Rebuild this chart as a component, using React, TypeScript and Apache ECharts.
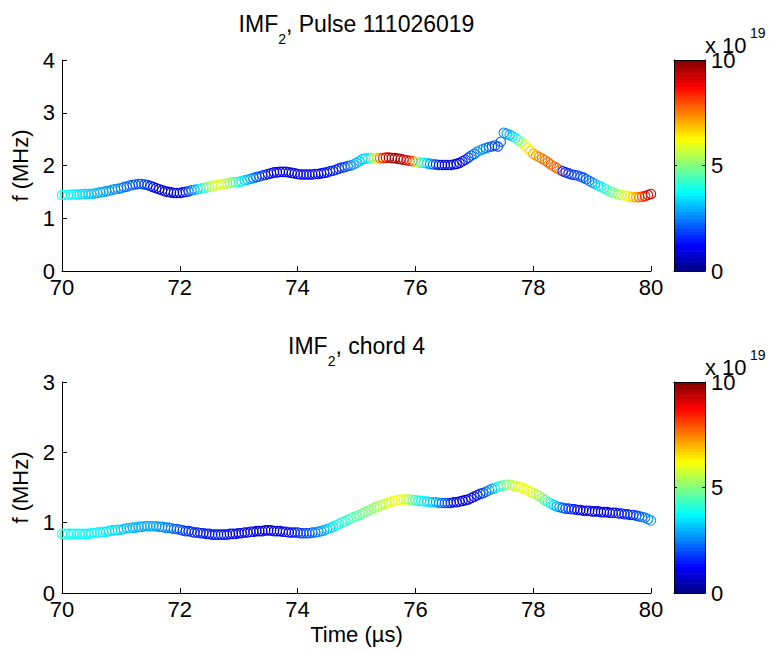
import React, { useEffect, useRef } from "react";
import * as echarts from "echarts";

// ---------- DATA ----------
const T_START = 70; // µs, first sample
const T_STEP = 0.05; // µs between samples

// Upper panel: IMF2 frequency (MHz) for pulse 111026019
const TOP_FREQ = [
  1.44, 1.44, 1.44, 1.45, 1.45, 1.45, 1.45, 1.46, 1.46, 1.46,
  1.46, 1.47, 1.48, 1.49, 1.5, 1.51, 1.52, 1.54, 1.55, 1.56,
  1.57, 1.59, 1.6, 1.62, 1.63, 1.64, 1.65, 1.65, 1.64, 1.63,
  1.61, 1.59, 1.57, 1.55, 1.53, 1.51, 1.5, 1.49, 1.48, 1.48,
  1.48, 1.49, 1.5, 1.51, 1.53, 1.54, 1.55, 1.56, 1.57, 1.58,
  1.6, 1.61, 1.62, 1.63, 1.64, 1.65, 1.66, 1.67, 1.68, 1.68,
  1.69, 1.7, 1.72, 1.73, 1.75, 1.76, 1.78, 1.79, 1.81, 1.82,
  1.84, 1.85, 1.87, 1.87, 1.88, 1.88, 1.88, 1.87, 1.86, 1.85,
  1.84, 1.83, 1.83, 1.83, 1.83, 1.83, 1.84, 1.84, 1.85, 1.86,
  1.87, 1.89, 1.9, 1.92, 1.94, 1.96, 1.97, 1.99, 2.0, 2.02,
  2.05, 2.08, 2.12, 2.13, 2.14, 2.14, 2.14, 2.14, 2.14, 2.14,
  2.15, 2.15, 2.14, 2.14, 2.13, 2.12, 2.11, 2.1, 2.09, 2.08,
  2.07, 2.06, 2.05, 2.05, 2.04, 2.03, 2.02, 2.02, 2.01, 2.01,
  2.01, 2.01, 2.01, 2.02, 2.03, 2.05, 2.08, 2.11, 2.15, 2.19,
  2.22, 2.26, 2.29, 2.31, 2.33, 2.35, 2.36, 2.38, 2.36, 2.45,
  2.62, 2.6, 2.58, 2.55, 2.52, 2.48, 2.44, 2.39, 2.33, 2.28,
  2.22, 2.19, 2.16, 2.13, 2.1, 2.06, 2.02, 1.98, 1.95, 1.92,
  1.89, 1.87, 1.85, 1.83, 1.82, 1.81, 1.79, 1.77, 1.74, 1.71,
  1.68, 1.65, 1.62, 1.6, 1.57, 1.54, 1.51, 1.49, 1.47, 1.45,
  1.44, 1.43, 1.42, 1.41, 1.4, 1.4, 1.4, 1.41, 1.42, 1.44,
  1.46,
];

// Upper panel: colour value (x 10^19)
const TOP_DENSITY = [
  3.9, 3.9, 3.8, 3.8, 3.7, 3.6, 3.5, 3.4, 3.3, 3.2,
  3.1, 3.0, 3.0, 2.9, 2.9, 2.8, 2.8, 2.7, 2.7, 2.6,
  2.5, 2.4, 2.3, 2.2, 2.2, 2.1, 2.1, 2.0, 1.9, 1.8,
  1.6, 1.4, 1.2, 1.0, 0.9, 0.8, 0.8, 0.8, 0.9, 0.9,
  1.0, 1.2, 1.5, 1.8, 2.3, 2.8, 3.2, 3.6, 4.0, 4.6,
  5.2, 5.6, 5.9, 6.0, 5.9, 5.8, 5.6, 5.3, 5.0, 4.5,
  4.0, 3.7, 3.4, 3.1, 2.8, 2.5, 2.2, 2.0, 1.8, 1.6,
  1.5, 1.3, 1.2, 1.1, 1.0, 1.0, 1.0, 1.1, 1.2, 1.2,
  1.2, 1.2, 1.2, 1.2, 1.3, 1.3, 1.2, 1.2, 1.2, 1.3,
  1.4, 1.5, 1.6, 1.6, 1.6, 1.7, 1.8, 2.0, 2.3, 2.7,
  3.0, 3.1, 3.2, 3.3, 3.6, 4.3, 5.5, 6.5, 7.5, 8.3,
  9.0, 9.4, 9.6, 9.7, 9.7, 9.6, 9.4, 9.1, 8.8, 8.2,
  6.8, 5.5, 4.3, 3.8, 3.3, 2.8, 2.3, 1.8, 1.4, 1.1,
  1.0, 1.0, 1.0, 1.0, 1.1, 1.2, 1.3, 1.5, 1.7, 2.0,
  2.3, 2.6, 2.8, 2.8, 2.6, 2.3, 2.0, 1.8, 1.8, 2.2,
  2.6, 2.8, 2.9, 3.2, 3.8, 4.5, 5.2, 5.8, 6.2, 6.6,
  7.0, 7.3, 7.5, 7.6, 7.7, 7.7, 7.8, 7.8, 7.9, 7.5,
  1.5, 1.5, 1.6, 1.7, 1.8, 1.9, 2.0, 2.0, 2.1, 2.3,
  2.6, 3.0, 3.3, 3.6, 3.9, 4.2, 4.5, 4.8, 5.0, 5.3,
  5.6, 5.9, 6.1, 6.4, 6.8, 7.2, 7.6, 8.0, 8.5, 9.0,
  9.2,
];

// Lower panel: IMF2 frequency (MHz) for chord 4
const BOTTOM_FREQ = [
  0.84, 0.84, 0.84, 0.84, 0.84, 0.84, 0.84, 0.84, 0.84, 0.84,
  0.85, 0.85, 0.86, 0.86, 0.87, 0.87, 0.88, 0.89, 0.89, 0.9,
  0.9, 0.91, 0.92, 0.92, 0.93, 0.93, 0.94, 0.94, 0.95, 0.95,
  0.95, 0.95, 0.95, 0.94, 0.94, 0.93, 0.93, 0.92, 0.91, 0.91,
  0.9, 0.89, 0.88, 0.88, 0.87, 0.86, 0.86, 0.85, 0.85, 0.84,
  0.84, 0.83, 0.83, 0.83, 0.83, 0.83, 0.83, 0.84, 0.84, 0.84,
  0.85, 0.85, 0.86, 0.86, 0.87, 0.87, 0.88, 0.88, 0.88, 0.89,
  0.89, 0.89, 0.88, 0.88, 0.88, 0.87, 0.87, 0.86, 0.86, 0.86,
  0.86, 0.85, 0.85, 0.85, 0.85, 0.86, 0.86, 0.87, 0.88, 0.89,
  0.91, 0.92, 0.94, 0.96, 0.98, 1.0, 1.02, 1.04, 1.06, 1.08,
  1.09, 1.11, 1.13, 1.15, 1.17, 1.19, 1.21, 1.23, 1.24, 1.26,
  1.27, 1.29, 1.3, 1.31, 1.32, 1.33, 1.33, 1.33, 1.33, 1.32,
  1.32, 1.31, 1.31, 1.3, 1.3, 1.29, 1.29, 1.29, 1.28, 1.28,
  1.28, 1.28, 1.28, 1.29, 1.29, 1.3, 1.31, 1.32, 1.33, 1.35,
  1.37, 1.39, 1.41, 1.42, 1.44, 1.46, 1.48, 1.49, 1.51, 1.52,
  1.53, 1.54, 1.54, 1.53, 1.52, 1.51, 1.5, 1.48, 1.46, 1.44,
  1.42, 1.4, 1.38, 1.35, 1.32, 1.29, 1.27, 1.25, 1.23, 1.22,
  1.21, 1.2, 1.2, 1.19, 1.19, 1.18, 1.18, 1.17, 1.17, 1.17,
  1.16, 1.16, 1.16, 1.15, 1.15, 1.15, 1.14, 1.14, 1.14, 1.13,
  1.13, 1.12, 1.12, 1.11, 1.11, 1.1, 1.09, 1.08, 1.07, 1.05,
  1.03,
];

// Lower panel: colour value (x 10^19)
const BOTTOM_DENSITY = [
  4.1, 4.0, 4.0, 3.9, 3.9, 3.9, 3.8, 3.8, 3.8, 3.7,
  3.7, 3.7, 3.6, 3.6, 3.6, 3.5, 3.5, 3.5, 3.4, 3.4,
  3.3, 3.2, 3.1, 3.1, 3.0, 3.0, 3.0, 2.9, 2.9, 2.9,
  2.9, 2.8, 2.8, 2.8, 2.7, 2.6, 2.5, 2.4, 2.3, 2.2,
  2.0, 1.9, 1.8, 1.7, 1.6, 1.6, 1.5, 1.5, 1.5, 1.5,
  1.5, 1.5, 1.5, 1.5, 1.5, 1.4, 1.4, 1.4, 1.3, 1.3,
  1.2, 1.2, 1.1, 1.1, 1.0, 1.0, 0.9, 0.9, 0.9, 0.9,
  0.9, 0.9, 0.9, 1.0, 1.0, 1.0, 1.1, 1.3, 1.4, 1.5,
  1.6, 1.7, 1.8, 1.9, 2.0, 2.1, 2.3, 2.5, 2.7, 2.9,
  3.1, 3.3, 3.5, 3.7, 3.9, 4.1, 4.2, 4.3, 4.4, 4.5,
  4.6, 4.7, 4.8, 4.9, 5.0, 5.1, 5.2, 5.3, 5.4, 5.6,
  5.7, 5.9, 6.0, 6.1, 6.1, 6.1, 6.0, 5.8, 5.3, 4.8,
  4.4, 4.0, 3.8, 3.6, 3.4, 3.3, 3.2, 3.0, 2.7, 2.4,
  2.1, 1.9, 1.6, 1.3, 1.1, 1.0, 0.9, 0.9, 0.9, 1.0,
  1.1, 1.3, 1.6, 1.9, 2.2, 2.5, 2.8, 3.3, 3.8, 4.2,
  4.6, 5.0, 5.3, 5.6, 5.8, 6.0, 6.1, 6.1, 6.1, 6.0,
  5.9, 5.6, 5.3, 5.0, 4.6, 4.2, 3.8, 3.4, 3.0, 2.6,
  2.3, 2.0, 1.8, 1.6, 1.4, 1.2, 1.1, 1.0, 1.0, 0.9,
  0.9, 0.9, 1.0, 1.0, 1.0, 1.1, 1.2, 1.3, 1.4, 1.4,
  1.5, 1.5, 1.6, 1.6, 1.7, 1.8, 2.0, 2.2, 2.4, 2.6,
  2.7,
];

const X_MIN = 70;
const X_MAX = 80;
const X_INTERVAL = 2;
const TOP_Y_MAX = 4;
const BOTTOM_Y_MAX = 3;
const CBAR_MIN = 0;
const CBAR_MAX = 10;
const CBAR_INTERVAL = 5;
const CBAR_STEPS = 64;

const TOP_TITLE = "{a|IMF}{s|2}{a|, Pulse 111026019}";
const BOTTOM_TITLE = "{a|IMF}{s|2}{a|, chord 4}";
const X_NAME = "Time (µs)";
const Y_NAME = "f (MHz)";

// jet colormap stops
const JET = [
  "#000080", "#0000ff", "#0080ff", "#00ffff", "#80ff80",
  "#ffff00", "#ff8000", "#ff0000", "#800000",
];

// ---------- HELPERS ----------
const FONT = "'Liberation Sans', Arial, Helvetica, sans-serif";

function toPoints(freq: number[], dens: number[]) {
  return freq.map((f, i) => [
    Math.round((T_START + i * T_STEP) * 100) / 100,
    f,
    dens[i],
  ]);
}

function colorbarBands() {
  const step = (CBAR_MAX - CBAR_MIN) / CBAR_STEPS;
  const out: number[][] = [];
  for (let i = 0; i < CBAR_STEPS; i++) {
    const lo = CBAR_MIN + i * step;
    out.push([0, lo, lo + step / 2, lo + step]);
  }
  return out;
}

const ringItem = (_params: any, api: any) => {
  const p = api.coord([api.value(0), api.value(1)]);
  return {
    type: "circle",
    shape: { cx: p[0], cy: p[1], r: 4.7 },
    style: { fill: "none", stroke: api.visual("color"), lineWidth: 1.1 },
  };
};

const bandItem = (_params: any, api: any) => {
  const a = api.coord([0, api.value(1)]);
  const b = api.coord([1, api.value(3)]);
  return {
    type: "rect",
    shape: { x: a[0], y: b[1], width: b[0] - a[0], height: a[1] - b[1] + 0.6 },
    style: { fill: api.visual("color") },
  };
};

const axisLineBlack = { show: true, lineStyle: { color: "#000", width: 1 } };
const tickLabel = { color: "#000", fontSize: 22, fontFamily: FONT };

function mainX(gridIndex: number, withName: boolean) {
  return {
    type: "value",
    gridIndex,
    min: X_MIN,
    max: X_MAX,
    interval: X_INTERVAL,
    axisLine: { ...axisLineBlack, onZero: false },
    axisTick: { show: true, inside: true, length: 5, lineStyle: { color: "#000" } },
    axisLabel: { ...tickLabel, margin: 5 },
    splitLine: { show: false },
    name: withName ? X_NAME : "",
    nameLocation: "middle",
    nameGap: 30,
    nameTextStyle: { color: "#000", fontSize: 22, fontFamily: FONT },
  };
}

function mainY(gridIndex: number, max: number) {
  return {
    type: "value",
    gridIndex,
    min: 0,
    max,
    interval: 1,
    axisLine: { ...axisLineBlack, onZero: false },
    axisTick: { show: true, inside: true, length: 5, lineStyle: { color: "#000" } },
    axisLabel: { ...tickLabel, margin: 7 },
    splitLine: { show: false },
    name: Y_NAME,
    nameLocation: "middle",
    nameGap: 30,
    nameTextStyle: { color: "#000", fontSize: 22, fontFamily: FONT },
  };
}

function cbarX(gridIndex: number, position: string) {
  return {
    type: "value",
    gridIndex,
    min: 0,
    max: 1,
    position,
    z: 5,
    axisLine: { ...axisLineBlack, onZero: false },
    axisTick: { show: false },
    axisLabel: { show: false },
    splitLine: { show: false },
  };
}

function cbarY(gridIndex: number, position: string, labels: boolean) {
  return {
    type: "value",
    gridIndex,
    min: CBAR_MIN,
    max: CBAR_MAX,
    interval: CBAR_INTERVAL,
    position,
    z: 5,
    axisLine: { ...axisLineBlack, onZero: false },
    axisTick: { show: true, inside: true, length: 3, lineStyle: { color: "#000" } },
    axisLabel: labels ? { ...tickLabel, margin: 6 } : { show: false },
    splitLine: { show: false },
  };
}

function titleRich(text: string, top: number) {
  return {
    text,
    left: 356.5,
    top,
    textAlign: "center",
    padding: 0,
    textStyle: {
      fontWeight: "normal",
      rich: {
        a: {
          fontSize: 23,
          lineHeight: 23,
          fontFamily: FONT,
          fontWeight: "normal",
          color: "#000",
          verticalAlign: "top",
        },
        s: {
          fontSize: 14,
          lineHeight: 14,
          fontFamily: FONT,
          fontWeight: "normal",
          color: "#000",
          verticalAlign: "top",
          padding: [20, 0, 0, 0],
        },
      },
    },
  };
}

function exponentLabel(y: number) {
  return [
    {
      type: "text",
      x: 705,
      y: y,
      z: 10,
      style: {
        text: "x 10",
        fontSize: 22,
        fontFamily: FONT,
        fill: "#000",
        align: "left",
        verticalAlign: "middle",
      },
    },
    {
      type: "text",
      x: 750,
      y: y - 12,
      z: 10,
      style: {
        text: "19",
        fontSize: 14,
        fontFamily: FONT,
        fill: "#000",
        align: "left",
        verticalAlign: "middle",
      },
    },
  ];
}

export default function App() {
  const ref = useRef<HTMLDivElement>(null);

  useEffect(() => {
    document.body.style.margin = "0";
    if (!ref.current) return;
    const chart = echarts.init(ref.current, undefined, { renderer: "svg" });

    const bands = colorbarBands();

    chart.setOption({
      animation: false,
      backgroundColor: "#fff",
      title: [titleRich(TOP_TITLE, 12), titleRich(BOTTOM_TITLE, 334)],
      grid: [
        { left: 62, top: 60, width: 589, height: 211 },
        { left: 62, top: 382, width: 589, height: 211 },
        { left: 674, top: 60, width: 31, height: 211 },
        { left: 674, top: 382, width: 31, height: 211 },
      ],
      xAxis: [
        mainX(0, false),
        mainX(1, true),
        cbarX(2, "bottom"),
        cbarX(2, "top"),
        cbarX(3, "bottom"),
        cbarX(3, "top"),
      ],
      yAxis: [
        mainY(0, TOP_Y_MAX),
        mainY(1, BOTTOM_Y_MAX),
        cbarY(2, "right", true),
        cbarY(2, "left", false),
        cbarY(3, "right", true),
        cbarY(3, "left", false),
      ],
      visualMap: {
        type: "continuous",
        show: false,
        min: CBAR_MIN,
        max: CBAR_MAX,
        dimension: 2,
        seriesIndex: [0, 1, 2, 3],
        inRange: { color: JET },
      },
      series: [
        {
          type: "custom",
          xAxisIndex: 0,
          yAxisIndex: 0,
          renderItem: ringItem,
          encode: { x: 0, y: 1 },
          data: toPoints(TOP_FREQ, TOP_DENSITY),
          z: 2,
        },
        {
          type: "custom",
          xAxisIndex: 1,
          yAxisIndex: 1,
          renderItem: ringItem,
          encode: { x: 0, y: 1 },
          data: toPoints(BOTTOM_FREQ, BOTTOM_DENSITY),
          z: 2,
        },
        {
          type: "custom",
          xAxisIndex: 2,
          yAxisIndex: 2,
          renderItem: bandItem,
          encode: { x: 0, y: [1, 3] },
          data: bands,
          z: 1,
        },
        {
          type: "custom",
          xAxisIndex: 4,
          yAxisIndex: 4,
          renderItem: bandItem,
          encode: { x: 0, y: [1, 3] },
          data: bands,
          z: 1,
        },
      ],
      graphic: [...exponentLabel(45), ...exponentLabel(367)],
    });

    return () => chart.dispose();
  }, []);

  return <div ref={ref} style={{ width: 770, height: 653 }} />;
}
